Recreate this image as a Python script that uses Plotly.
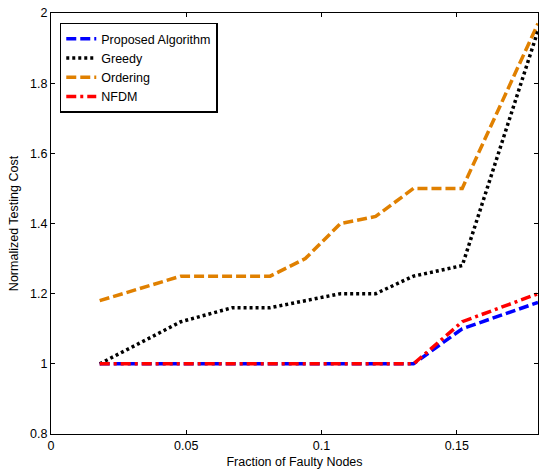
import plotly.graph_objects as go

fraction = [0.018, 0.048, 0.067, 0.081, 0.094, 0.107, 0.12, 0.134, 0.152, 0.18]
proposed = [1.0, 1.0, 1.0, 1.0, 1.0, 1.0, 1.0, 1.0, 1.10, 1.175]
greedy = [1.0, 1.12, 1.16, 1.16, 1.18, 1.20, 1.20, 1.25, 1.28, 1.95]
ordering = [1.18, 1.25, 1.25, 1.25, 1.30, 1.40, 1.42, 1.50, 1.50, 1.97]
nfdm = [1.0, 1.0, 1.0, 1.0, 1.0, 1.0, 1.0, 1.0, 1.12, 1.20]

x_ticks = [0, 0.05, 0.1, 0.15]
x_ticklabels = ["0", "0.05", "0.1", "0.15"]
y_ticks = [0.8, 1.0, 1.2, 1.4, 1.6, 1.8, 2.0]
y_ticklabels = ["0.8", "1", "1.2", "1.4", "1.6", "1.8", "2"]

FONT = "Liberation Sans"

fig = go.Figure()
fig.add_trace(go.Scatter(x=fraction, y=ordering, mode="lines", name="Ordering",
                         line=dict(color="#E08000", width=3.5, dash="10px,4px"), legendrank=3))
fig.add_trace(go.Scatter(x=fraction, y=greedy, mode="lines", name="Greedy",
                         line=dict(color="black", width=3.5, dash="3px,3px"), legendrank=2))
fig.add_trace(go.Scatter(x=fraction, y=proposed, mode="lines", name="Proposed Algorithm",
                         line=dict(color="#0000FF", width=3.5, dash="10px,4px"), legendrank=1))
fig.add_trace(go.Scatter(x=fraction, y=nfdm, mode="lines", name="NFDM",
                         line=dict(color="#FF0000", width=3.5, dash="10px,4px,3px,4px"), legendrank=4))

axis_common = dict(showgrid=False, zeroline=False, showline=True, linecolor="black",
                   linewidth=1, mirror="ticks", ticks="inside", ticklen=4,
                   tickcolor="black", automargin=False,
                   tickfont=dict(family=FONT, size=12.5, color="black"))

fig.update_layout(
    width=540, height=475,
    margin=dict(l=51, r=2, t=13, b=41),
    paper_bgcolor="white", plot_bgcolor="white",
    font=dict(family=FONT, size=12.5, color="black"),
    xaxis=dict(range=[0, 0.18], tickvals=x_ticks, ticktext=x_ticklabels,
               title=dict(text="Fraction of Faulty Nodes", standoff=5,
                          font=dict(family=FONT, size=12.5)), **axis_common),
    yaxis=dict(range=[0.8, 2.0], tickvals=y_ticks, ticktext=y_ticklabels,
               title=dict(text="Normalized Testing Cost", standoff=8,
                          font=dict(family=FONT, size=12.5)), **axis_common),
    legend=dict(x=0.018, y=0.977, xanchor="left", yanchor="top",
                bgcolor="white", bordercolor="black", borderwidth=1.5,
                font=dict(family=FONT, size=12.5, color="black"),
                tracegroupgap=0, itemwidth=30),
    showlegend=True,
)

fig.write_html("out.html", config={"displayModeBar": False},
               post_script="document.body.style.margin='0';")
